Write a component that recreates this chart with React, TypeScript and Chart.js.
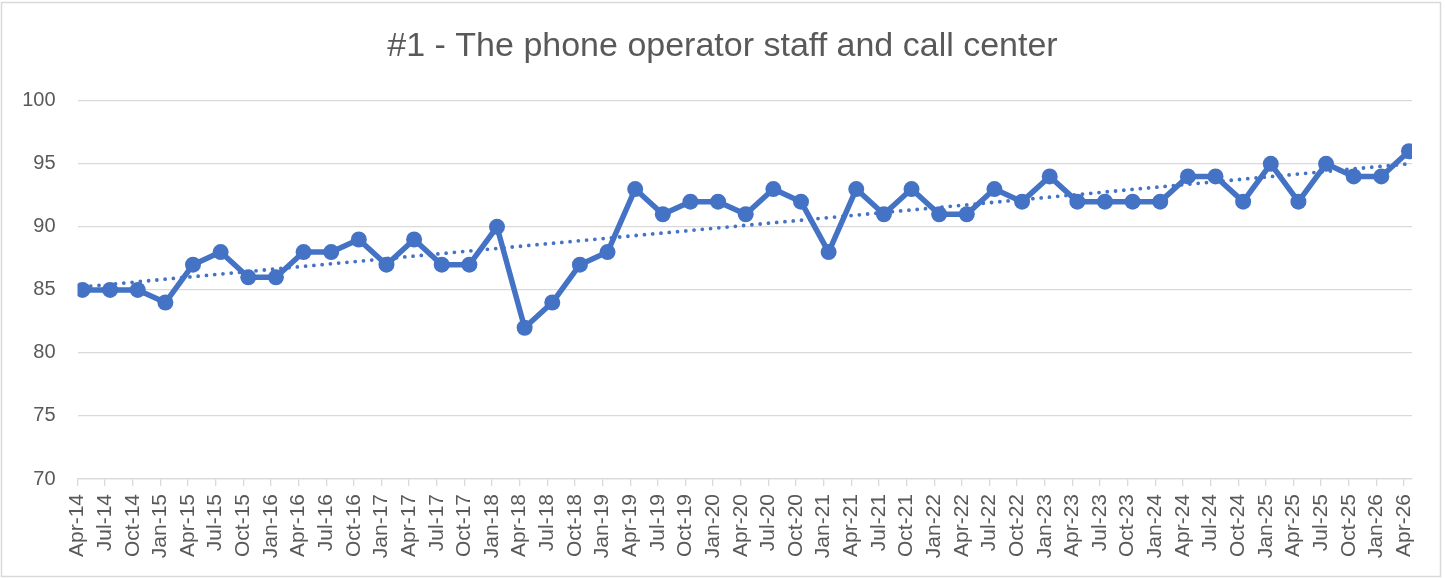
import React, { useEffect, useRef } from "react";
import { Chart, registerables } from "chart.js";

Chart.register(...registerables);

const TITLE = "#1 - The phone operator staff and call center";

const CATEGORIES = [
  "Apr-14", "Jul-14", "Oct-14", "Jan-15", "Apr-15", "Jul-15", "Oct-15", "Jan-16",
  "Apr-16", "Jul-16", "Oct-16", "Jan-17", "Apr-17", "Jul-17", "Oct-17", "Jan-18",
  "Apr-18", "Jul-18", "Oct-18", "Jan-19", "Apr-19", "Jul-19", "Oct-19", "Jan-20",
  "Apr-20", "Jul-20", "Oct-20", "Jan-21", "Apr-21", "Jul-21", "Oct-21", "Jan-22",
  "Apr-22", "Jul-22", "Oct-22", "Jan-23", "Apr-23", "Jul-23", "Oct-23", "Jan-24",
  "Apr-24", "Jul-24", "Oct-24", "Jan-25", "Apr-25", "Jul-25", "Oct-25", "Jan-26",
  "Apr-26",
];

const SCORES = [
  85, 85, 85, 84, 87, 88, 86, 86,
  88, 88, 89, 87, 89, 87, 87, 90,
  82, 84, 87, 88, 93, 91, 92, 92,
  91, 93, 92, 88, 93, 91, 93, 91,
  91, 93, 92, 94, 92, 92, 92, 92,
  94, 94, 92, 95, 92, 95, 94, 94,
  96,
];

const Y_MIN = 70;
const Y_MAX = 100;
const Y_STEP = 5;

// point sits slightly after its tick (date axis look)
const POINT_SHIFT = 0.18;
const X_MAX = 48.29;

const FONT = "'Liberation Sans', Arial, sans-serif";
const TEXT_COLOR = "#595959";
const GRID_COLOR = "#d9d9d9";
const SERIES_COLOR = "#4472C4";

function linearTrend(values: number[]) {
  const n = values.length;
  let sx = 0, sy = 0, sxx = 0, sxy = 0;
  values.forEach((y, x) => {
    sx += x; sy += y; sxx += x * x; sxy += x * y;
  });
  const slope = (n * sxy - sx * sy) / (n * sxx - sx * sx);
  const intercept = (sy - slope * sx) / n;
  return values.map((_, x) => intercept + slope * x);
}

const frame = {
  id: "frame",
  beforeDraw(chart: any) {
    const { ctx, width, height } = chart;
    ctx.save();
    ctx.fillStyle = "#ffffff";
    ctx.fillRect(0, 0, width, height);
    ctx.strokeStyle = GRID_COLOR;
    ctx.lineWidth = 1.5;
    ctx.strokeRect(1.5, 2.5, 1439, 574);
    ctx.restore();
  },
};

export default function App() {
  const ref = useRef<HTMLCanvasElement | null>(null);

  useEffect(() => {
    if (!ref.current) return;
    const trend = linearTrend(SCORES);
    const chart = new Chart(ref.current, {
      type: "line",
      data: {
        datasets: [
          {
            label: "Score",
            data: SCORES.map((y, i) => ({ x: i + POINT_SHIFT, y })),
            borderColor: SERIES_COLOR,
            backgroundColor: SERIES_COLOR,
            borderWidth: 5.5,
            borderJoinStyle: "round",
            pointRadius: 8,
            pointBorderWidth: 0,
            pointBackgroundColor: SERIES_COLOR,
            tension: 0,
            order: 2,
          },
          {
            label: "Trend",
            data: trend.map((y, i) => ({ x: i + POINT_SHIFT, y })),
            borderColor: SERIES_COLOR,
            borderWidth: 3.8,
            borderDash: [0, 8.3],
            borderCapStyle: "round",
            pointRadius: 0,
            tension: 0,
            order: 1,
          },
        ],
      },
      options: {
        animation: false,
        responsive: false,
        devicePixelRatio: 1,
        layout: { padding: { left: 0, right: 0, top: 0, bottom: 0 } },
        plugins: {
          legend: { display: false },
          tooltip: { enabled: false },
          title: {
            display: true,
            text: TITLE,
            color: TEXT_COLOR,
            font: { family: FONT, size: 34, weight: "normal" },
            padding: { top: 26, bottom: 34 },
          },
        },
        scales: {
          x: {
            type: "linear",
            min: 0,
            max: X_MAX,
            afterBuildTicks: (s: any) => {
              s.ticks = CATEGORIES.map((_, i) => ({ value: i }));
            },
            afterFit: (s: any) => {
              s.height = 99;
            },
            ticks: {
              autoSkip: false,
              minRotation: 90,
              maxRotation: 90,
              padding: 8,
              color: TEXT_COLOR,
              font: { family: FONT, size: 21 },
              callback: (v: any) => CATEGORIES[Math.round(Number(v))] ?? "",
            },
            grid: {
              drawOnChartArea: false,
              drawTicks: true,
              tickLength: 7,
              color: GRID_COLOR,
              lineWidth: 1.3,
            },
            border: { display: true, color: GRID_COLOR, width: 1.3 },
          },
          y: {
            min: Y_MIN,
            max: Y_MAX,
            afterFit: (s: any) => {
              s.width = 77.5;
            },
            ticks: {
              stepSize: Y_STEP,
              padding: 22,
              color: TEXT_COLOR,
              font: { family: FONT, size: 20 },
            },
            grid: { color: GRID_COLOR, lineWidth: 1.3, drawTicks: false },
            border: { display: false },
          },
          yRight: {
            position: "right",
            min: 0,
            max: 1,
            afterFit: (s: any) => {
              s.width = 33;
            },
            ticks: { display: false },
            grid: { display: false },
            border: { display: false },
          },
        },
      },
      plugins: [frame],
    });
    return () => chart.destroy();
  }, []);

  return (
    <div style={{ position: "fixed", left: 0, top: 0, width: 1445, height: 578, background: "#fff" }}>
      <canvas ref={ref} width={1445} height={578} style={{ display: "block" }} />
    </div>
  );
}
